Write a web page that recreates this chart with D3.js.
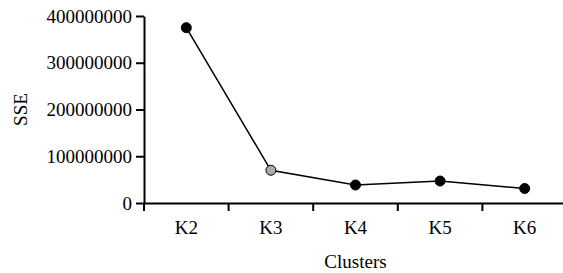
<!DOCTYPE html>
<html>
<head>
  <script src="https://d3js.org/d3.v7.min.js"></script>
  <style>
    body { margin: 0; background: #fff; }
  </style>
</head>
<body>
  <div id="chart"></div>
  <script>
    // Data
    const clusters = ['K2', 'K3', 'K4', 'K5', 'K6'];
    const sse = [375000000, 70000000, 38500000, 47000000, 31000000];
    const pointFills = ['#000', '#aaa', '#000', '#000', '#000'];
    const yTicks = [0, 100000000, 200000000, 300000000, 400000000];

    const width = 563, height = 273;
    const margin = { top: 16, right: -4, bottom: 70, left: 144 };
    const serif = 'Liberation Serif';

    const svg = d3.select('#chart').append('svg')
      .attr('width', width)
      .attr('height', height)
      .attr('font-family', serif);

    const x = d3.scaleBand()
      .domain(clusters)
      .range([margin.left, width - margin.right])
      .padding(0);

    const y = d3.scaleLinear()
      .domain([0, 400000000])
      .range([height - margin.bottom, margin.top]);

    // x axis: labels at centers, ticks at band edges
    const xAxis = svg.append('g')
      .attr('transform', `translate(0,${y(0)})`)
      .call(d3.axisBottom(x).tickSize(0).tickSizeOuter(0).tickPadding(18));
    xAxis.attr('font-family', null).attr('font-size', null);
    xAxis.select('.domain').attr('stroke-width', 2);
    xAxis.selectAll('text')
      .attr('fill', '#000')
      .attr('font-family', serif)
      .attr('font-size', 19);

    const edges = clusters.map(d => x(d)).concat([x.range()[1]]);
    svg.append('g').selectAll('line')
      .data(edges)
      .join('line')
      .attr('x1', d => d).attr('x2', d => d)
      .attr('y1', y(0)).attr('y2', y(0) + 8)
      .attr('stroke', '#000')
      .attr('stroke-width', 2);

    // y axis
    const yAxis = svg.append('g')
      .attr('transform', `translate(${margin.left},0)`)
      .call(d3.axisLeft(y).tickValues(yTicks).tickFormat(d3.format('d'))
        .tickSize(8).tickSizeOuter(0).tickPadding(4));
    yAxis.attr('font-family', null).attr('font-size', null);
    yAxis.select('.domain').attr('stroke-width', 2);
    yAxis.selectAll('.tick line').attr('stroke-width', 2);
    yAxis.selectAll('text')
      .attr('fill', '#000')
      .attr('font-family', serif)
      .attr('font-size', 19);

    // line
    const line = d3.line()
      .x((d, i) => x(clusters[i]) + x.bandwidth() / 2)
      .y(d => y(d));

    svg.append('path')
      .datum(sse)
      .attr('d', line)
      .attr('fill', 'none')
      .attr('stroke', '#000')
      .attr('stroke-width', 1.5);

    svg.append('g').selectAll('circle')
      .data(sse)
      .join('circle')
      .attr('cx', (d, i) => x(clusters[i]) + x.bandwidth() / 2)
      .attr('cy', d => y(d))
      .attr('r', 5)
      .attr('fill', (d, i) => pointFills[i])
      .attr('stroke', '#000')
      .attr('stroke-width', 1);

    // axis titles
    svg.append('text')
      .attr('x', (margin.left + x.range()[1]) / 2)
      .attr('y', 268)
      .attr('text-anchor', 'middle')
      .attr('font-size', 19)
      .text('Clusters');

    svg.append('text')
      .attr('transform', `translate(27,${(y(0) + y(400000000)) / 2}) rotate(-90)`)
      .attr('text-anchor', 'middle')
      .attr('font-size', 19)
      .text('SSE');
  </script>
</body>
</html>
